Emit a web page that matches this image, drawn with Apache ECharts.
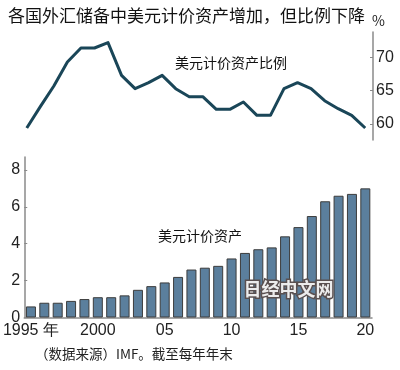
<!DOCTYPE html>
<html>
<head>
<meta charset="utf-8">
<script src="https://cdn.jsdelivr.net/npm/echarts@6/dist/echarts.min.js"></script>
<style>
html,body{margin:0;padding:0;background:#fff;}
#chart{width:400px;height:370px;}
</style>
</head>
<body>
<div id="chart"></div>
<script>
const years = ['1995','1996','1997','1998','1999','2000','2001','2002','2003','2004','2005','2006','2007','2008','2009','2010','2011','2012','2013','2014','2015','2016','2017','2018','2019','2020'];
const xTickLabels = {'1995':'1995 年','2000':'2000','2005':'05','2010':'10','2015':'15','2020':'20'};
const usdShare = [59.4,62.6,65.7,69.3,71.4,71.4,72.2,67.3,65.3,66.2,67.3,65.3,64.1,64.1,62.2,62.2,63.3,61.3,61.3,65.3,66.2,65.3,63.5,62.3,61.3,59.4];
const usdAssets = [0.6,0.8,0.8,0.9,1.0,1.1,1.1,1.2,1.5,1.7,1.9,2.2,2.6,2.7,2.8,3.2,3.5,3.7,3.8,4.4,4.9,5.5,6.3,6.6,6.7,7.0];
const shareTicks = [60,65,70];
const assetTicks = [0,2,4,6,8];

const chart = echarts.init(document.getElementById('chart'), null, {renderer:'canvas'});
const numFont = '"Liberation Sans Narrow","Liberation Sans",Arial,sans-serif';
const cjk = '"Noto Sans CJK SC","Noto Sans",sans-serif';
chart.setOption({
  animation:false,
  backgroundColor:'#fff',
  grid:[
    {left:20,right:28,top:32,height:108},
    {left:20,right:28,top:157,height:160.5}
  ],
  xAxis:[
    {type:'category',gridIndex:0,data:years,show:false,boundaryGap:true},
    {type:'category',gridIndex:1,data:years,boundaryGap:true,
      axisLine:{lineStyle:{color:'#8a8a8a',width:1.5}},
      axisTick:{show:false},
      axisLabel:{interval:0,margin:5,color:'#222',fontFamily:numFont,fontSize:16,
        formatter:function(v){return xTickLabels[v]||'';}}
    }
  ],
  yAxis:[
    {type:'value',gridIndex:0,position:'right',min:57.6,max:73.8,offset:1,
      splitLine:{show:false},
      axisLine:{show:true,lineStyle:{color:'#8a8a8a',width:1.5}},
      axisTick:{show:true,inside:true,length:3,customValues:shareTicks,lineStyle:{color:'#8a8a8a'}},
      axisLabel:{customValues:shareTicks,margin:3,color:'#222',fontFamily:numFont,fontSize:16}
    },
    {type:'value',gridIndex:1,position:'left',min:0,max:8.7,
      splitLine:{show:false},
      axisLine:{show:true,lineStyle:{color:'#8a8a8a',width:1.5}},
      axisTick:{show:true,inside:true,length:3,customValues:assetTicks,lineStyle:{color:'#8a8a8a'}},
      axisLabel:{customValues:assetTicks,margin:4,color:'#222',fontFamily:numFont,fontSize:16}
    }
  ],
  series:[
    {type:'line',xAxisIndex:0,yAxisIndex:0,data:usdShare,symbol:'none',
      lineStyle:{color:'#1a4658',width:3,join:'round'}},
    {type:'bar',xAxisIndex:1,yAxisIndex:1,data:usdAssets,barWidth:10,
      itemStyle:{color:'#5b7f9d',borderColor:'#3c3c3c',borderWidth:1}}
  ],
  graphic:[
    {type:'text',left:8,top:7,style:{text:'各国外汇储备中美元计价资产增加，但比例下降',fontFamily:cjk,fontSize:17,fill:'#111'}},
    {type:'text',left:372,top:14,style:{text:'%',fontFamily:cjk,fontSize:14,fill:'#222'}},
    {type:'text',left:175,top:56,style:{text:'美元计价资产比例',fontFamily:cjk,fontSize:14,fill:'#111'}},
    {type:'text',left:158,top:229,style:{text:'美元计价资产',fontFamily:cjk,fontSize:14,fill:'#111'}},
    {type:'text',left:242,top:279,z:100,style:{text:'日经中文网',fontFamily:cjk,fontSize:18,fontWeight:'bold',fill:'#ececec',stroke:'#5a5050',lineWidth:3,strokeFirst:true}},
    {type:'text',left:35,top:347,style:{text:'（数据来源）IMF。截至每年年末',fontFamily:cjk,fontSize:13.5,fill:'#222'}}
  ]
});
</script>
</body>
</html>
